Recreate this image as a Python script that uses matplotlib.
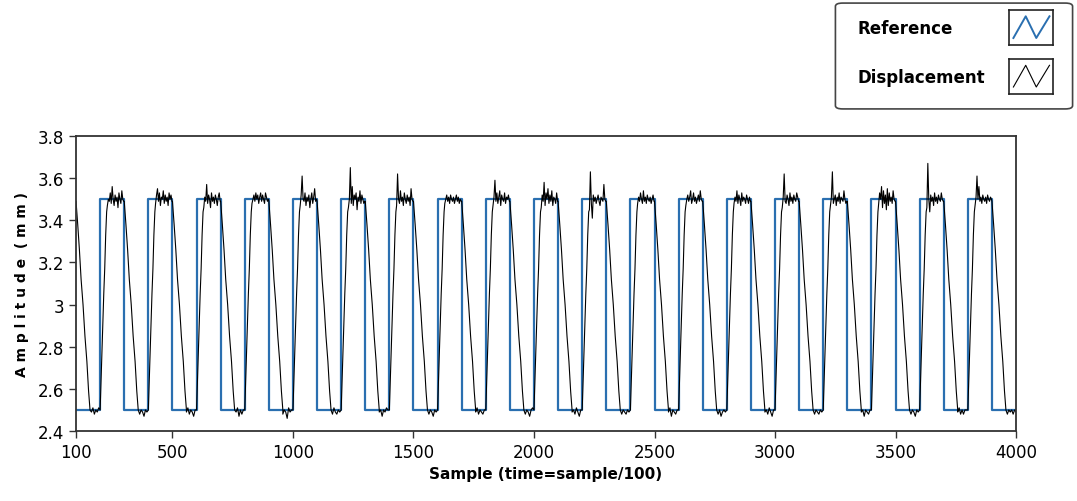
import matplotlib
matplotlib.use("Agg")
import matplotlib.pyplot as plt
from matplotlib.patches import FancyBboxPatch

# Reference square wave: transition samples and the level after each one
ref_edges = [100, 200, 300, 400, 500, 600, 700, 800, 900, 1000, 1100, 1200, 1300,
             1400, 1500, 1600, 1700, 1800, 1900, 2000, 2100, 2200, 2300, 2400, 2500,
             2600, 2700, 2800, 2900, 3000, 3100, 3200, 3300, 3400, 3500, 3600, 3700,
             3800, 3900, 4000]
ref_levels = [2.5, 3.5, 2.5, 3.5, 2.5, 3.5, 2.5, 3.5, 2.5, 3.5, 2.5, 3.5, 2.5,
              3.5, 2.5, 3.5, 2.5, 3.5, 2.5, 3.5, 2.5, 3.5, 2.5, 3.5, 2.5,
              3.5, 2.5, 3.5, 2.5, 3.5, 2.5, 3.5, 2.5, 3.5, 2.5, 3.5, 2.5,
              3.5, 2.5, 2.5]

# Displacement: rising edges of the reference, shape of the lagging slopes
rise_starts = [200, 400, 600, 800, 1000, 1200, 1400, 1600, 1800, 2000,
               2200, 2400, 2600, 2800, 3000, 3200, 3400, 3600, 3800]
rise_offsets = [0, 3, 7, 11, 15, 19, 23, 27]
rise_vals = [2.50, 2.61, 2.76, 2.89, 3.05, 3.17, 3.33, 3.44]
fall_offsets = [0, 7, 14, 21, 29, 37, 45, 52, 58]
fall_vals = [3.49, 3.38, 3.26, 3.12, 3.00, 2.85, 2.73, 2.59, 2.50]

# plateau samples (offset from rise) with the measured jitter/overshoot per cycle
plateau_offsets = [30, 34, 38, 42, 46, 50, 54, 58, 62, 66, 70, 74, 78, 82, 86, 90, 94, 98]
plateau_vals = [
    [3.47, 3.50, 3.49, 3.53, 3.48, 3.56, 3.50, 3.47, 3.52, 3.49, 3.51, 3.46, 3.53, 3.50, 3.48, 3.54, 3.50, 3.49],
    [3.48, 3.52, 3.55, 3.49, 3.53, 3.47, 3.51, 3.50, 3.54, 3.48, 3.52, 3.49, 3.51, 3.47, 3.53, 3.50, 3.52, 3.49],
    [3.46, 3.51, 3.49, 3.57, 3.48, 3.52, 3.50, 3.46, 3.53, 3.49, 3.51, 3.48, 3.52, 3.50, 3.47, 3.51, 3.53, 3.49],
    [3.48, 3.50, 3.52, 3.49, 3.53, 3.50, 3.52, 3.48, 3.51, 3.53, 3.49, 3.52, 3.50, 3.48, 3.53, 3.51, 3.49, 3.50],
    [3.47, 3.52, 3.61, 3.50, 3.49, 3.53, 3.47, 3.51, 3.49, 3.52, 3.46, 3.50, 3.53, 3.48, 3.51, 3.55, 3.49, 3.50],
    [3.46, 3.50, 3.65, 3.48, 3.56, 3.47, 3.52, 3.50, 3.53, 3.45, 3.51, 3.49, 3.54, 3.48, 3.52, 3.50, 3.48, 3.49],
    [3.47, 3.62, 3.50, 3.48, 3.54, 3.49, 3.51, 3.47, 3.53, 3.50, 3.48, 3.52, 3.49, 3.51, 3.47, 3.55, 3.50, 3.49],
    [3.48, 3.50, 3.52, 3.49, 3.51, 3.48, 3.52, 3.50, 3.49, 3.51, 3.48, 3.50, 3.52, 3.49, 3.51, 3.48, 3.50, 3.49],
    [3.47, 3.51, 3.59, 3.49, 3.53, 3.48, 3.51, 3.54, 3.47, 3.52, 3.50, 3.49, 3.53, 3.48, 3.51, 3.50, 3.52, 3.49],
    [3.46, 3.52, 3.49, 3.58, 3.47, 3.53, 3.50, 3.55, 3.48, 3.52, 3.49, 3.54, 3.47, 3.51, 3.50, 3.48, 3.53, 3.49],
    [3.45, 3.63, 3.48, 3.41, 3.52, 3.49, 3.51, 3.48, 3.50, 3.52, 3.49, 3.47, 3.51, 3.50, 3.49, 3.57, 3.50, 3.49],
    [3.48, 3.51, 3.49, 3.53, 3.50, 3.48, 3.54, 3.49, 3.51, 3.48, 3.52, 3.50, 3.49, 3.51, 3.48, 3.50, 3.52, 3.49],
    [3.47, 3.50, 3.52, 3.49, 3.51, 3.54, 3.48, 3.50, 3.53, 3.49, 3.51, 3.48, 3.50, 3.52, 3.49, 3.54, 3.50, 3.49],
    [3.48, 3.51, 3.49, 3.54, 3.48, 3.52, 3.50, 3.47, 3.53, 3.49, 3.51, 3.50, 3.48, 3.52, 3.50, 3.48, 3.51, 3.49],
    [3.46, 3.51, 3.62, 3.49, 3.48, 3.52, 3.50, 3.47, 3.53, 3.49, 3.51, 3.48, 3.52, 3.50, 3.49, 3.53, 3.51, 3.49],
    [3.47, 3.51, 3.63, 3.48, 3.50, 3.52, 3.47, 3.51, 3.49, 3.53, 3.48, 3.51, 3.50, 3.49, 3.54, 3.50, 3.48, 3.49],
    [3.48, 3.53, 3.50, 3.56, 3.46, 3.54, 3.48, 3.52, 3.45, 3.55, 3.47, 3.53, 3.49, 3.51, 3.48, 3.54, 3.50, 3.49],
    [3.46, 3.67, 3.50, 3.44, 3.52, 3.49, 3.51, 3.47, 3.53, 3.49, 3.51, 3.48, 3.52, 3.50, 3.49, 3.53, 3.50, 3.49],
    [3.47, 3.51, 3.61, 3.50, 3.56, 3.49, 3.51, 3.48, 3.52, 3.50, 3.49, 3.51, 3.48, 3.52, 3.50, 3.49, 3.51, 3.50],
]

# floor samples (offset from fall start), one row per low phase (first one starts at 100)
floor_offsets = [58, 64, 70, 76, 82, 88, 94]
floor_vals = [
    [2.50, 2.49, 2.51, 2.48, 2.50, 2.49, 2.51],
    [2.50, 2.48, 2.50, 2.49, 2.47, 2.50, 2.49],
    [2.49, 2.51, 2.48, 2.50, 2.49, 2.47, 2.50],
    [2.50, 2.49, 2.51, 2.47, 2.50, 2.48, 2.50],
    [2.48, 2.50, 2.49, 2.46, 2.51, 2.49, 2.50],
    [2.50, 2.48, 2.51, 2.49, 2.48, 2.50, 2.49],
    [2.49, 2.50, 2.47, 2.50, 2.49, 2.51, 2.50],
    [2.50, 2.48, 2.50, 2.49, 2.47, 2.50, 2.49],
    [2.49, 2.51, 2.48, 2.50, 2.49, 2.48, 2.50],
    [2.50, 2.48, 2.50, 2.49, 2.47, 2.50, 2.51],
    [2.49, 2.50, 2.48, 2.51, 2.49, 2.47, 2.50],
    [2.50, 2.48, 2.50, 2.49, 2.48, 2.50, 2.49],
    [2.49, 2.51, 2.47, 2.50, 2.49, 2.48, 2.50],
    [2.50, 2.48, 2.50, 2.47, 2.49, 2.50, 2.49],
    [2.49, 2.50, 2.48, 2.51, 2.49, 2.47, 2.50],
    [2.50, 2.48, 2.50, 2.49, 2.48, 2.50, 2.49],
    [2.49, 2.50, 2.47, 2.50, 2.49, 2.48, 2.50],
    [2.50, 2.48, 2.50, 2.49, 2.47, 2.50, 2.49],
    [2.49, 2.51, 2.48, 2.50, 2.48, 2.50, 2.50],
    [2.50, 2.48, 2.50, 2.49, 2.50, 2.48, 2.50],
]
disp_end = (4000, 2.49)

# stitch the displacement trace together
fall_starts = [100] + [r + 100 for r in rise_starts]
disp_x, disp_y = [], []
for i, f in enumerate(fall_starts):
    disp_x += [f + o for o in fall_offsets]
    disp_y += fall_vals
    disp_x += [f + o for o in floor_offsets]
    disp_y += floor_vals[i]
    if i < len(rise_starts):
        r = rise_starts[i]
        disp_x += [r + o for o in rise_offsets]
        disp_y += rise_vals
        disp_x += [r + o for o in plateau_offsets]
        disp_y += plateau_vals[i]
disp_x.append(disp_end[0])
disp_y.append(disp_end[1])

blue = '#2a6fb0'
plt.rcParams['font.family'] = ['DejaVu Sans']

fig = plt.figure(figsize=(10.77, 5.02), dpi=100)
ax = fig.add_axes([0.0706, 0.1394, 0.8728, 0.5877])

ax.plot(ref_edges, ref_levels, drawstyle='steps-post', color=blue, lw=1.6)
ax.plot(disp_x, disp_y, color='black', lw=0.8)

ax.set_xlim(100, 4000)
ax.set_ylim(2.4, 3.8)
ax.set_xticks([100, 500, 1000, 1500, 2000, 2500, 3000, 3500, 4000])
ax.set_yticks([2.4, 2.6, 2.8, 3.0, 3.2, 3.4, 3.6, 3.8])
ax.set_yticklabels(['2.4', '2.6', '2.8', '3', '3.2', '3.4', '3.6', '3.8'])
ax.tick_params(direction='out', length=5, width=1, labelsize=12, colors='#333333',
               labelcolor='black')
for s in ax.spines.values():
    s.set_color('#333333')
    s.set_linewidth(1.3)

ax.set_xlabel('Sample (time=sample/100)', fontsize=11, fontweight='bold', labelpad=4)
ax.set_ylabel('A m p l i t u d e  ( m m )', fontsize=10, fontweight='bold', labelpad=6)

# legend box in the top right corner
lax = fig.add_axes([833 / 1077, 1 - 111 / 502, 242 / 1077, 108 / 502])
lax.set_xlim(0, 1)
lax.set_ylim(0, 1)
lax.axis('off')
lax.add_patch(FancyBboxPatch((0.01, 0.01), 0.98, 0.98,
                             boxstyle='round,pad=0,rounding_size=0.03',
                             fc='white', ec='#444444', lw=1.2,
                             transform=lax.transAxes))
lax.text(0.10, 0.76, 'Reference', fontsize=12, fontweight='bold', va='center')
lax.text(0.10, 0.31, 'Displacement', fontsize=12, fontweight='bold', va='center')

legend_items = [(blue, 1 - 46 / 502, 1.4), ('black', 1 - 95 / 502, 0.8)]
for col, y0, lw in legend_items:
    iax = fig.add_axes([1009 / 1077, y0, 44 / 1077, 35 / 502])
    iax.set_xlim(0, 1)
    iax.set_ylim(0, 1)
    iax.set_xticks([])
    iax.set_yticks([])
    for s in iax.spines.values():
        s.set_color('#222222')
        s.set_linewidth(1.2)
    iax.plot([0.1, 0.38, 0.62, 0.92], [0.2, 0.82, 0.2, 0.82], color=col, lw=lw)

fig.savefig('out.png', dpi=100)
